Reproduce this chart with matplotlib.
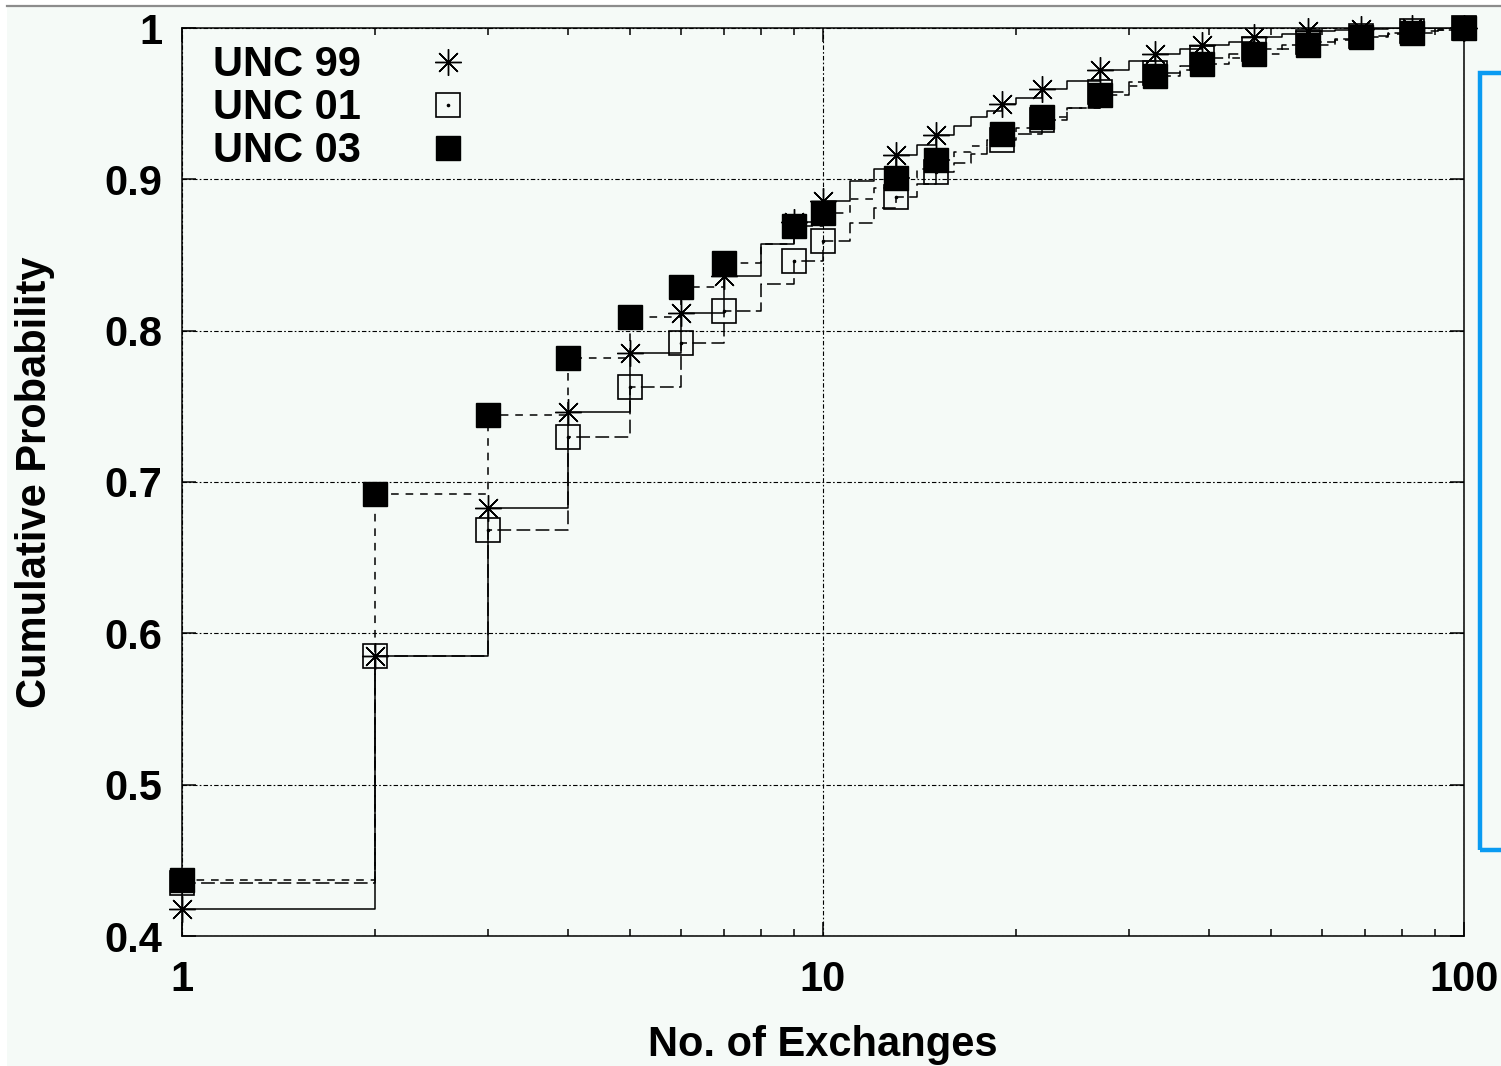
import matplotlib
matplotlib.use("Agg")
import matplotlib.pyplot as plt
from matplotlib.patches import Rectangle
from matplotlib.lines import Line2D
from matplotlib.ticker import NullFormatter, LogLocator

# number of exchanges (x) and cumulative probability per trace
exchanges = [1, 2, 3, 4, 5, 6, 7, 8, 9, 10, 11, 12, 13, 14, 15, 16, 17, 18, 19, 20,
             22, 24, 27, 30, 33, 36, 39, 43, 47, 52, 57, 63, 69, 76, 83, 91, 100]
unc99 = [0.418, 0.585, 0.683, 0.746, 0.785, 0.812, 0.836, 0.857, 0.872, 0.886,
         0.899, 0.907, 0.916, 0.923, 0.929, 0.935, 0.941, 0.945, 0.950, 0.954,
         0.960, 0.965, 0.972, 0.978, 0.983, 0.986, 0.989, 0.991, 0.994, 0.996,
         0.998, 0.999, 0.9995, 1.0, 1.0, 1.0, 1.0]
unc01 = [0.435, 0.585, 0.668, 0.730, 0.763, 0.792, 0.813, 0.831, 0.846, 0.859,
         0.871, 0.881, 0.888, 0.897, 0.905, 0.911, 0.917, 0.922, 0.926, 0.930,
         0.939, 0.947, 0.958, 0.964, 0.970, 0.975, 0.980, 0.983, 0.986, 0.989,
         0.991, 0.993, 0.995, 0.997, 0.998, 0.999, 1.0]
unc03 = [0.437, 0.692, 0.744, 0.782, 0.809, 0.829, 0.845, 0.857, 0.869, 0.878,
         0.887, 0.894, 0.901, 0.907, 0.913, 0.918, 0.922, 0.926, 0.930, 0.934,
         0.941, 0.947, 0.956, 0.962, 0.968, 0.972, 0.976, 0.980, 0.983, 0.986,
         0.989, 0.992, 0.994, 0.996, 0.997, 0.999, 1.0]
marked = [1, 2, 3, 4, 5, 6, 7, 9, 10, 13, 15, 19, 22, 27, 33, 39, 47, 57, 69, 83, 100]
labels = ['UNC 99', 'UNC 01', 'UNC 03']

bg = '#f5faf7'
W, H = 1501, 1066

plt.rcParams['font.family'] = ['Liberation Sans', 'DejaVu Sans']
plt.rcParams['font.weight'] = 'bold'

fig = plt.figure(figsize=(W / 100, H / 100), dpi=100, facecolor='white')
# screenshot frame: light background, grey rule on top, blue bracket at right
fig.add_artist(Rectangle((7 / W, 0), 1, 1 - 7 / H, transform=fig.transFigure,
                         facecolor=bg, edgecolor='none', zorder=-10))
fig.add_artist(Line2D([7 / W, 1], [1 - 6 / H] * 2, transform=fig.transFigure,
                      color='#8c8c8c', lw=1.6))
fig.add_artist(Rectangle((1480 / W, 1 - 850 / H), 0.05, (850 - 73) / H,
                         transform=fig.transFigure, facecolor='none',
                         edgecolor='#0a9bf2', lw=3.2))

ax = fig.add_axes([182 / W, 1 - 936 / H, (1464 - 182) / W, (936 - 28) / H])
ax.set_facecolor(bg)
ax.set_xscale('log')
ax.set_xlim(1, 100)
ax.set_ylim(0.4, 1.0)

idx = [exchanges.index(v) for v in marked]

# step lines
ax.plot(exchanges, unc99, drawstyle='steps-post', color='k', lw=1.1, zorder=3)
ax.plot(exchanges, unc01, drawstyle='steps-post', color='k', lw=1.1,
        dashes=(9, 3.5), zorder=3)
ax.plot(exchanges, unc03, drawstyle='steps-post', color='k', lw=1.1,
        dashes=(5, 4.5), zorder=3)

# point markers
h99, = ax.plot(exchanges, unc99, ls='none', marker=(8, 2, 0), markersize=19,
               mec='k', mew=1.0, markevery=idx, clip_on=False, zorder=4)
h01, = ax.plot(exchanges, unc01, ls='none', marker='s', markersize=17.5,
               mfc='none', mec='k', mew=1.2, markevery=idx, clip_on=False, zorder=4)
d01, = ax.plot(exchanges, unc01, ls='none', marker='o', markersize=1.6,
               color='k', markevery=idx, clip_on=False, zorder=4)
h03, = ax.plot(exchanges, unc03, ls='none', marker='s', markersize=17.5,
               color='k', mec='k', markevery=idx, clip_on=False, zorder=5)

ax.grid(True, which='major', color='k', lw=0.8, ls=(0, (4, 2, 1.5, 2)))

ax.set_xticks([1, 10, 100])
ax.set_xticklabels(['1', '10', '100'])
ax.xaxis.set_minor_locator(LogLocator(base=10, subs=range(2, 10)))
ax.xaxis.set_minor_formatter(NullFormatter())
ax.set_yticks([0.4, 0.5, 0.6, 0.7, 0.8, 0.9, 1.0])
ax.set_yticklabels(['0.4', '0.5', '0.6', '0.7', '0.8', '0.9', '1'])

ax.tick_params(which='both', direction='in', top=True, right=True, width=1.1,
               labelsize=30)
ax.tick_params(which='major', length=10)
ax.tick_params(which='minor', length=5)
ax.tick_params(axis='y', pad=14)
ax.tick_params(axis='x', pad=17)
for s in ax.spines.values():
    s.set_linewidth(1.1)

ax.set_xlabel('No. of Exchanges', fontsize=30, fontweight='bold')
ax.xaxis.set_label_coords(0.5, -0.098)
ax.set_ylabel('Cumulative Probability', fontsize=30, fontweight='bold')
ax.yaxis.set_label_coords(-0.099, 0.5)

ax.legend([h99, (h01, d01), h03], labels, loc='upper left',
          bbox_to_anchor=(0.024, 0.981), frameon=False, markerfirst=False,
          handlelength=1.0, handletextpad=1.6, borderpad=0, borderaxespad=0,
          labelspacing=0.07, fontsize=30, numpoints=1)

fig.savefig('out.png', dpi=100, facecolor=fig.get_facecolor())
